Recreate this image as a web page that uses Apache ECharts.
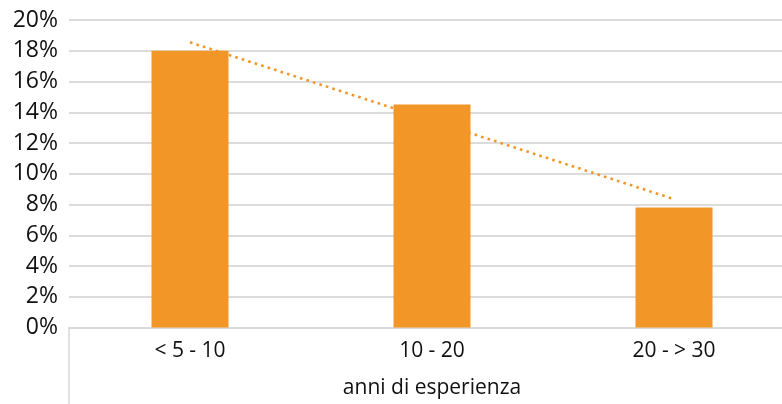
<!DOCTYPE html>
<html>
<head>
<meta charset="utf-8">
<script src="https://cdn.jsdelivr.net/npm/echarts@6/dist/echarts.min.js"></script>
<style>
  html, body { margin: 0; padding: 0; background: #fff; }
  #chart { width: 782px; height: 404px; }
</style>
</head>
<body>
<div id="chart"></div>
<script>
// Experience bands and share of respondents (%)
const categories = ['< 5 - 10', '10 - 20', '20 - > 30'];
const shares = [18.0, 14.5, 7.8];
// Linear trend through the bars (%)
const trend = [18.55, 13.45, 8.35];
const yTicks = { min: 0, max: 20, step: 2 };

const orange = '#F39628';
const font = '"Open Sans", "Liberation Sans", sans-serif';

const chart = echarts.init(document.getElementById('chart'), null, { renderer: 'canvas' });
chart.setOption({
  animation: false,
  grid: { left: 69, right: -13, top: 20, bottom: 76.5, outerBoundsMode: 'none', containLabel: false },
  xAxis: {
    type: 'category',
    data: categories,
    boundaryGap: true,
    name: 'anni di esperienza',
    nameLocation: 'middle',
    nameGap: 50,
    nameTextStyle: { fontFamily: font, fontSize: 21, color: '#111' },
    axisLine: { show: true, lineStyle: { color: '#d9d9d9', width: 2 } },
    axisTick: {
      show: true,
      length: 78,
      interval: function (index) { return index === 0; },
      lineStyle: { color: '#d9d9d9', width: 1.5 }
    },
    axisLabel: { fontFamily: font, fontSize: 21, color: '#111', margin: 13 }
  },
  yAxis: {
    type: 'value',
    min: yTicks.min,
    max: yTicks.max,
    interval: yTicks.step,
    axisLine: { show: false },
    axisTick: { show: false },
    axisLabel: {
      fontFamily: font, fontSize: 23, color: '#111', margin: 11,
      formatter: function (v) { return v + '%'; }
    },
    splitLine: { lineStyle: { color: '#dcdcdc', width: 2 } }
  },
  series: [
    {
      type: 'bar',
      data: shares,
      barWidth: 77,
      itemStyle: { color: orange },
      z: 2
    },
    {
      type: 'line',
      data: trend,
      symbol: 'none',
      lineStyle: { color: orange, width: 2.6, type: [2.6, 4.2] },
      z: 3
    }
  ]
});
</script>
</body>
</html>
